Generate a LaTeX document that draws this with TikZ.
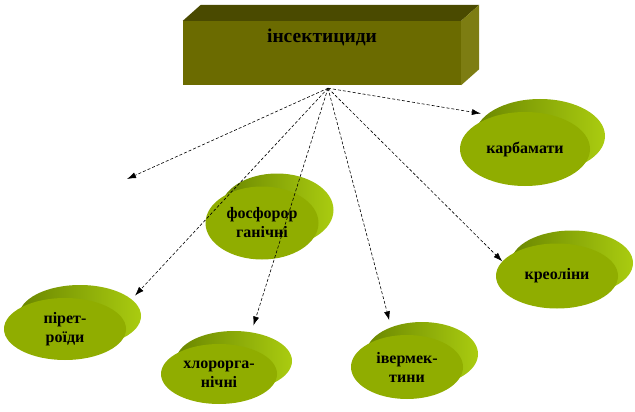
\documentclass[tikz,border=0pt]{standalone}
\usepackage{fontspec}
\setmainfont{Liberation Serif}
\usetikzlibrary{arrows.meta, shapes.geometric, calc}
\definecolor{BoxFront}{HTML}{6B6B00}
\definecolor{BoxTop}{HTML}{4A4A00}
\definecolor{BoxSide}{HTML}{7D7D12}
\definecolor{DiscFront}{HTML}{90AD00}
\definecolor{DiscDark}{HTML}{6A8600}
\definecolor{DiscLight}{HTML}{AACC10}

\begin{document}
\begin{tikzpicture}[
    x=1pt, y=-1pt,
    font=\bfseries\fontsize{16}{19}\selectfont,
    disc/.style={ellipse, fill=DiscFront, align=center, inner sep=0pt},
    discback/.style={ellipse, left color=DiscDark, middle color=DiscDark, right color=DiscLight, inner sep=0pt},
    link/.style={densely dashed, line width=0.6pt, -{Latex[length=9pt, width=6pt]}},
]
\useasboundingbox (0,0) rectangle (635,412);

% ---- головний блок ----
\node[fill=BoxFront, minimum width=278pt, text height=22pt, text depth=42pt, inner sep=0pt,
    anchor=base, font=\bfseries\fontsize{19.5}{22}\selectfont] (ins) at (322,43) {інсектициди};
\fill[BoxTop] (ins.north west) -- ++(18,-16) -- ($(ins.north east)+(18,-16)$) -- (ins.north east) -- cycle;
\fill[BoxSide] (ins.north east) -- ++(18,-16) -- ($(ins.south east)+(18,-16)$) -- (ins.south east) -- cycle;
\coordinate (src) at ($(ins.south)+(6,3)$);
\coordinate (void) at (127,179);

% ---- групи ----
\node[discback, minimum width=122pt, minimum height=62pt] (pir-b) at (80,316) {};
\node[disc, minimum width=122pt, minimum height=62pt] (pir) at (65,329) {пірет-\\роїди};

\node[discback, minimum width=116pt, minimum height=60pt] (chl-b) at (234,361) {};
\node[disc, minimum width=116pt, minimum height=60pt] (chl) at (219,374) {хлорорга-\\нічні};

\node[discback, minimum width=113pt, minimum height=73pt] (fos-b) at (277,210) {};
\node[disc, minimum width=113pt, minimum height=73pt] (fos) at (262,223) {фосфорор\\ганічні};

\node[discback, minimum width=112pt, minimum height=64pt] (ive-b) at (422,354) {};
\node[disc, minimum width=112pt, minimum height=64pt] (ive) at (407,367) {івермек-\\тини};

\node[discback, minimum width=130pt, minimum height=74pt] (kar-b) at (540,136) {};
\node[disc, minimum width=130pt, minimum height=74pt] (kar) at (525,149) {карбамати};

\node[discback, minimum width=122pt, minimum height=65pt] (kre-b) at (572,263) {};
\node[disc, minimum width=122pt, minimum height=65pt] (kre) at (557,276) {креоліни};

% ---- зв'язки ----
\draw[link] (src) -- (void);
\draw[link, shorten >=5pt] (src) -- (pir-b.18);
\draw[link, shorten >=7pt] (src) -- (chl-b.59);
\draw[link, shorten >=7pt] (src) -- (ive-b.139);
\draw[link, shorten >=6pt] (src) -- (kar-b.158);
\draw[link] (src) -- (kre.165);

\end{tikzpicture}
\end{document}
